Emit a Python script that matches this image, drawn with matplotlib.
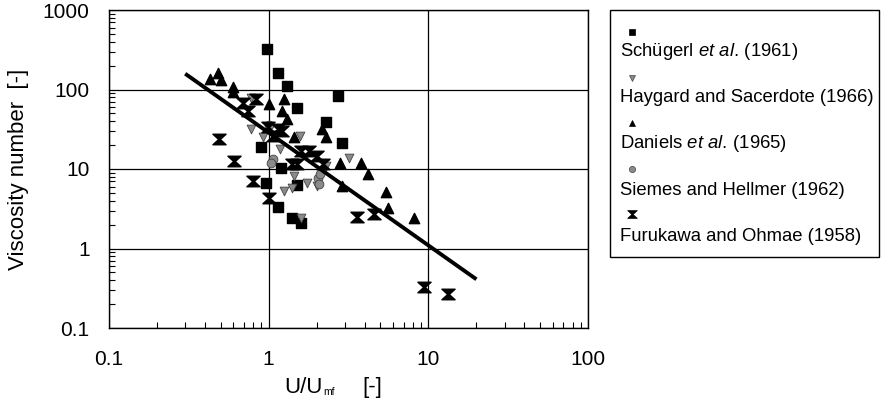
import numpy as np
import matplotlib
matplotlib.use('Agg')
from matplotlib import pyplot as plt
from matplotlib.path import Path
from matplotlib.lines import Line2D
from matplotlib.patches import Rectangle
from matplotlib.ticker import LogLocator, FixedLocator, NullFormatter

plt.rcParams['font.family'] = ['Liberation Sans', 'DejaVu Sans']
plt.rcParams['mathtext.fontset'] = 'custom'
plt.rcParams['mathtext.rm'] = 'Liberation Sans'
plt.rcParams['mathtext.it'] = 'Liberation Sans:italic'

# ---data
schugerl_x = [0.97, 1.15, 1.3, 2.7, 1.5, 2.3, 2.9, 0.9, 1.2, 0.96, 1.5, 1.15, 1.4, 1.6]
schugerl_y = [320, 160, 110, 84, 58, 39, 21, 19, 10.3, 6.7, 6.3, 3.35, 2.4, 2.1]

haygard_x = [0.78, 0.77, 0.92, 1.17, 1.56, 3.2, 2.3, 1.45, 1.4, 1.75, 2.0, 1.24, 1.6]
haygard_y = [79, 32, 25, 18, 26, 13.7, 10.9, 8.2, 5.8, 6.7, 6.1, 5.3, 2.45]

daniels_x = [0.48, 0.43, 0.50, 0.6, 0.6, 1.0, 1.24, 1.21, 1.3, 2.15, 2.3, 1.45,
             2.8, 3.8, 4.2, 5.4, 5.6, 8.1, 2.9]
daniels_y = [163, 137, 130, 109, 92, 65, 75, 53, 43, 32, 25, 25,
             12, 12, 8.7, 5.2, 3.2, 2.4, 6.2]

siemes_x = [1.0, 1.06, 1.03, 2.03, 2.06, 2.1]
siemes_y = [36, 13.3, 11.9, 7.7, 6.5, 8.7]

furukawa_x = [0.49, 0.61, 0.69, 0.83, 0.74, 0.99, 1.14, 1.06, 1.6, 2.0, 2.2, 1.4,
              0.8, 1.0, 4.6, 3.6, 9.4, 13.2, 1.8, 1.5, 1.22]
furukawa_y = [24, 12.6, 67, 77, 53, 34, 32, 26, 17, 14.5, 11.5, 11.5,
              7.1, 4.3, 2.7, 2.5, 0.33, 0.27, 17, 11.5, 30]

fit_x = [0.3, 20]
fit_y = [158, 0.41]

labels = [r'Schügerl $\it{et\ al.}\,$(1961)',
          'Haygard and Sacerdote (1966)',
          r'Daniels $\it{et\ al.}\,$(1965)',
          'Siemes and Hellmer (1962)',
          'Furukawa and Ohmae (1958)']

#---hourglass marker
hourglass = Path([(-1, 0.8), (1, 0.8), (0.12, 0), (1, -0.8), (-1, -0.8), (-0.12, 0), (-1, 0.8)],
                 [Path.MOVETO] + [Path.LINETO] * 5 + [Path.CLOSEPOLY])

styles = [dict(marker='s', s=48, c='black', edgecolors='black'),
          dict(marker='v', s=40, c='#8a8a8a', edgecolors='#444444', linewidths=0.6),
          dict(marker='^', s=55, c='black', edgecolors='black'),
          dict(marker='o', s=40, c='#8a8a8a', edgecolors='#444444', linewidths=0.6),
          dict(marker=hourglass, s=90, c='black', edgecolors='black')]

series = [(schugerl_x, schugerl_y), (haygard_x, haygard_y), (daniels_x, daniels_y),
          (siemes_x, siemes_y), (furukawa_x, furukawa_y)]

H, W = 409.0, 881.0
fig = plt.figure(figsize=(8.81, 4.09), dpi=100)
ax = fig.add_axes([109 / W, 1 - 328 / H, 479 / W, 318 / H])

for (xs, ys), st in zip(series, styles):
    ax.scatter(xs, ys, zorder=3, **st)

ax.plot(fit_x, fit_y, color='black', lw=2.8, zorder=4, solid_capstyle='butt')

ax.set_xscale('log')
ax.set_yscale('log')
ax.set_xlim(0.1, 100)
ax.set_ylim(0.1, 1000)

ax.xaxis.set_major_locator(FixedLocator([0.1, 1, 10, 100]))
ax.yaxis.set_major_locator(FixedLocator([0.1, 1, 10, 100, 1000]))
ax.set_xticklabels(['0.1', '1', '10', '100'])
ax.set_yticklabels(['0.1', '1', '10', '100', '1000'])
ax.xaxis.set_minor_locator(LogLocator(base=10, subs=np.arange(2, 10), numticks=20))
ax.yaxis.set_minor_locator(LogLocator(base=10, subs=np.arange(2, 10), numticks=20))
ax.xaxis.set_minor_formatter(NullFormatter())
ax.yaxis.set_minor_formatter(NullFormatter())

ax.tick_params(which='major', length=0, labelsize=15)
ax.tick_params(axis='x', which='major', pad=16)
ax.tick_params(axis='y', which='major', pad=14)
ax.tick_params(which='minor', direction='in', length=4, width=0.8, top=False, right=False)

ax.grid(True, which='major', color='black', lw=0.9)
for sp in ax.spines.values():
    sp.set_color('black')
    sp.set_linewidth(1.0)

ax.set_ylabel('Viscosity number  [-]', fontsize=16, labelpad=10)

#---x label in pieces so the subscript stays tiny
fig.text(284 / W, 1 - 393 / H, 'U/U', fontsize=16, ha='left', va='baseline')
fig.text(323 / W, 1 - 395 / H, 'mf', fontsize=7.5, ha='left', va='baseline')
fig.text(362 / W, 1 - 393 / H, '[-]', fontsize=16, ha='left', va='baseline')

#---legend box drawn by hand: marker above each label
fig.add_artist(Rectangle((610 / W, 1 - 257 / H), 269 / W, 247 / H, transform=fig.transFigure,
                         fill=False, edgecolor='black', lw=1.0))
leg_sizes = [4.5, 4.5, 5, 4.5, 7]
for i, (lab, st) in enumerate(zip(labels, styles)):
    my = 32 + 45.5 * i
    ty = 51 + 46.5 * i
    fig.add_artist(Line2D([632 / W], [1 - my / H], transform=fig.transFigure, ls='none',
                          marker=st['marker'], markersize=leg_sizes[i],
                          markerfacecolor=st['c'], markeredgecolor=st['edgecolors'],
                          markeredgewidth=0.5))
    fig.text(620 / W, 1 - ty / H, lab, fontsize=13.3, va='center', ha='left')

fig.savefig('out.png', dpi=100)
